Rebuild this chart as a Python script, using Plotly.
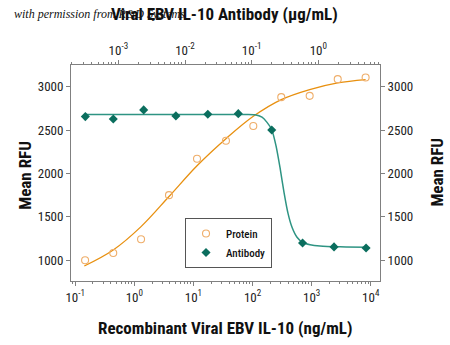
import plotly.graph_objects as go

# ---- data ----
protein_conc = [0.147, 0.44, 1.30, 3.86, 11.5, 35.5, 103, 306, 925, 2760, 8180]   # ng/mL
protein_rfu = [1000, 1084, 1243, 1751, 2171, 2379, 2549, 2881, 2896, 3089, 3108]

antibody_conc = [0.00032, 0.00084, 0.0024, 0.0073, 0.022, 0.063, 0.20, 0.58, 1.72, 5.2]  # ug/mL
antibody_rfu = [2657, 2630, 2734, 2665, 2684, 2691, 2503, 1200, 1154, 1142]

# fitted curves
protein_fit_conc = [0.1426, 0.44, 1.30, 3.86, 11.5, 35.5, 103, 306, 925, 2760, 8180]
protein_fit_rfu = [934, 1119, 1388, 1735, 2090, 2402, 2660, 2853, 2969, 3046, 3084]

antibody_fit_conc = [0.000317, 0.0625, 0.1123, 0.143, 0.170, 0.200, 0.232, 0.266, 0.306,
                     0.351, 0.403, 0.479, 0.583, 0.751, 1.06, 2.12, 5.19]
antibody_fit_rfu = [2680, 2680, 2678, 2650, 2590, 2506, 2320, 2070, 1780,
                    1540, 1380, 1265, 1205, 1180, 1165, 1155, 1150]

bottom_tickvals = [0.1, 1, 10, 100, 1000, 10000]
bottom_ticktext = ["10<sup>-1</sup>", "10<sup>0</sup>", "10<sup>1</sup>", "10<sup>2</sup>",
                   "10<sup>3</sup>", "10<sup>4</sup>"]
top_tickvals = [0.001, 0.01, 0.1, 1]
top_ticktext = ["10<sup>-3</sup>", "10<sup>-2</sup>", "10<sup>-1</sup>", "10<sup>0</sup>"]
y_tickvals = [1000, 1500, 2000, 2500, 3000]

FONT = "Roboto Condensed, Liberation Sans Narrow, Roboto, sans-serif"
ORANGE_LINE = "#E8900F"
ORANGE_MARK = "#EFAE6A"
TEAL_MARK = "#0B6E5E"
TEAL_LINE = "#2E9483"
AXC = "#808080"

def minor_vals(lo, hi):
    out = []
    for e in range(lo, hi):
        for m in range(2, 10):
            out.append(m * 10 ** e)
    return out

fig = go.Figure()
fig.add_trace(go.Scatter(x=protein_fit_conc, y=protein_fit_rfu, mode="lines",
                         line=dict(color=ORANGE_LINE, width=1.3, shape="spline", smoothing=1.0),
                         showlegend=False, hoverinfo="skip", xaxis="x", yaxis="y"))
fig.add_trace(go.Scatter(x=antibody_fit_conc, y=antibody_fit_rfu, mode="lines",
                         line=dict(color=TEAL_LINE, width=1.5, shape="spline", smoothing=0.6),
                         showlegend=False, hoverinfo="skip", xaxis="x2", yaxis="y2"))
fig.add_trace(go.Scatter(x=protein_conc, y=protein_rfu, mode="markers", name="Protein",
                         marker=dict(symbol="circle-open", size=7, color=ORANGE_MARK,
                                     line=dict(width=1.1, color=ORANGE_MARK)),
                         xaxis="x", yaxis="y"))
fig.add_trace(go.Scatter(x=antibody_conc, y=antibody_rfu, mode="markers", name="Antibody",
                         marker=dict(symbol="diamond", size=7, color=TEAL_MARK),
                         xaxis="x2", yaxis="y2"))

yr = [761, 3252]
common_axis = dict(showline=True, linecolor=AXC, linewidth=1, ticks="outside", tickcolor=AXC,
                   ticklen=4, showgrid=False, zeroline=False,
                   tickfont=dict(family=FONT, size=13, color="#222"))

fig.update_layout(
    width=450, height=345,
    margin=dict(l=71, r=70, t=65, b=64),
    paper_bgcolor="white", plot_bgcolor="white",
    font=dict(family=FONT, color="#111"),
    xaxis=dict(type="log", range=[-1.071, 4.156], tickmode="array",
               tickvals=bottom_tickvals, ticktext=bottom_ticktext,
               minor=dict(tickmode="array", tickvals=minor_vals(-2, 5), ticks="outside",
                          ticklen=2, tickcolor=AXC, showgrid=False),
               **common_axis),
    xaxis2=dict(type="log", range=[-3.71, 0.925], overlaying="x", side="top", anchor="y",
                tickmode="array", tickvals=top_tickvals, ticktext=top_ticktext,
                minor=dict(tickmode="array", tickvals=minor_vals(-4, 1), ticks="outside",
                           ticklen=2, tickcolor=AXC, showgrid=False),
                **common_axis),
    yaxis=dict(range=yr, tickmode="array", tickvals=y_tickvals, **common_axis),
    yaxis2=dict(range=yr, tickmode="array", tickvals=y_tickvals, overlaying="y",
                side="right", anchor="x", **common_axis),
    legend=dict(x=0.369, y=0.292, xanchor="left", yanchor="top",
                bordercolor="#555", borderwidth=1, bgcolor="white",
                font=dict(family=FONT, size=11, color="#111", weight=500), itemwidth=30),
    showlegend=True,
)

title_font = dict(family=FONT, size=17, color="#111")
fig.add_annotation(text="<b>Viral EBV IL-10 Antibody (µg/mL)</b>", xref="paper", yref="paper",
                   x=0.498, y=1.234, showarrow=False, font=title_font,
                   xanchor="center", yanchor="middle")
fig.add_annotation(text="<b>Recombinant Viral EBV IL-10 (ng/mL)</b>", xref="paper", yref="paper",
                   x=0.498, y=-0.218, showarrow=False, font=title_font,
                   xanchor="center", yanchor="middle")
fig.add_annotation(text="<b>Mean RFU</b>", xref="paper", yref="paper", x=-0.149, y=0.492,
                   showarrow=False, font=title_font, textangle=-90,
                   xanchor="center", yanchor="middle")
fig.add_annotation(text="<b>Mean RFU</b>", xref="paper", yref="paper", x=1.184, y=0.506,
                   showarrow=False, font=title_font, textangle=-90,
                   xanchor="center", yanchor="middle")
fig.add_annotation(text="<i>with permission from R&amp;D Systems</i>", xref="paper", yref="paper",
                   x=-0.191, y=1.234, showarrow=False,
                   font=dict(family="Liberation Serif, DejaVu Serif, serif", size=12, color="#111"),
                   xanchor="left", yanchor="middle")

fig.write_html("out.html")
